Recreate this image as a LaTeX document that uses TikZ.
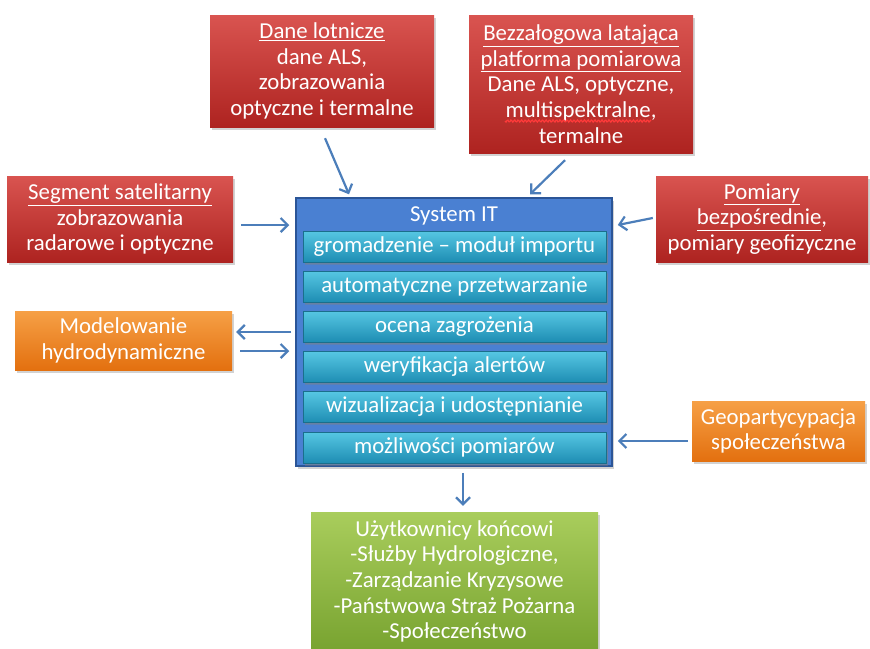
\documentclass[tikz,border=0pt]{standalone}
\usepackage{fontspec}
\setmainfont{Carlito}
\usetikzlibrary{arrows.meta,shadows,calc}
\newcommand\ul[1]{\underline{#1}}
\definecolor{redT}{HTML}{D95450}
\definecolor{redB}{HTML}{AE2320}
\definecolor{orT}{HTML}{F6A046}
\definecolor{orB}{HTML}{E3700F}
\definecolor{grT}{HTML}{A9CD5C}
\definecolor{grB}{HTML}{78A330}
\definecolor{sysF}{HTML}{4A80D2}
\definecolor{sysD}{HTML}{2B5597}
\definecolor{cyT}{HTML}{56C7E3}
\definecolor{cyB}{HTML}{1E8DB3}
\definecolor{cyD}{HTML}{1A6F8C}
\definecolor{arrC}{HTML}{4C7EBA}
\definecolor{waveC}{HTML}{FF3A3A}
\tikzset{
  txt/.style={font=\fontsize{22.8}{25.6}\selectfont},
  box/.style={draw=none, text=white, align=center, inner sep=0pt, txt,
    drop shadow={shadow xshift=2pt, shadow yshift=-2.5pt, opacity=0.35}},
  redbox/.style={box, top color=redT, bottom color=redB},
  orbox/.style={box, top color=orT, bottom color=orB},
  grbox/.style={box, top color=grT, bottom color=grB},
  sysbox/.style={draw=sysD, line width=1.5pt, fill=sysF,
    drop shadow={shadow xshift=2pt, shadow yshift=-2.5pt, opacity=0.35}},
  bar/.style={box, top color=cyT, bottom color=cyB, draw=cyD, line width=0.6pt,
    minimum width=303pt, minimum height=31pt,
    drop shadow={shadow xshift=1.5pt, shadow yshift=-1.5pt, opacity=0.35}},
  arr/.style={draw=arrC, line width=2.2pt, -{Straight Barb[length=7pt,width=14pt,line width=2.2pt]}},
  spell/.style={draw=waveC, line width=1.2pt}
}
\begin{document}
\begin{tikzpicture}[x=1pt,y=-1pt]
\clip (0,0) rectangle (870,648);
\fill[white] (0,0) rectangle (870,648);
% sources
\node[redbox, minimum width=224pt, minimum height=112pt] (dl) at (322,71)
  {\ul{Dane lotnicze}\\dane ALS,\\zobrazowania\\optyczne i termalne};
\node[redbox, minimum width=224pt, minimum height=138pt] (bz) at (581,84)
  {\ul{Bezzałogowa latająca}\\\ul{platforma pomiarowa}\\Dane ALS, optyczne,\\multispektralne,\\termalne};
\node[redbox, minimum width=226pt, minimum height=86pt] (seg) at (120,219)
  {\ul{Segment satelitarny}\\zobrazowania\\radarowe i optyczne};
\node[redbox, minimum width=212pt, minimum height=86pt] (pom) at (762,219)
  {\ul{Pomiary}\\\ul{bezpośrednie},\\pomiary geofizyczne};
\node[orbox, minimum width=217pt, minimum height=59pt] (mod) at (123.5,340.5)
  {Modelowanie\\hydrodynamiczne};
\node[orbox, minimum width=173pt, minimum height=60pt] (geo) at (778.5,431)
  {Geopartycypacja\\społeczeństwa};
\node[grbox, minimum width=287pt, minimum height=139pt] (usr) at (454.5,581.5)
  {Użytkownicy końcowi\\-Służby Hydrologiczne,\\-Zarządzanie Kryzysowe\\-Państwowa Straż Pożarna\\-Społeczeństwo};
% system
\node[sysbox, minimum width=316pt, minimum height=268pt] (sys) at (454,332) {};
\node[text=white, txt, inner sep=0pt] (sysT) at (454,216) {System IT};
\node[bar] (b1) at (454.5,246.5) {gromadzenie – moduł importu};
\node[bar] (b2) at (454.5,286.5) {automatyczne przetwarzanie};
\node[bar] (b3) at (454.5,326.5) {ocena zagrożenia};
\node[bar] (b4) at (454.5,367) {weryfikacja alertów};
\node[bar] (b5) at (454.5,407) {wizualizacja i udostępnianie};
\node[bar] (b6) at (454.5,447.5) {możliwości pomiarów};
% arrows
\draw[arr] ([xshift=3pt,yshift=-11pt]dl.south) -- ([xshift=-105pt,yshift=3pt]sys.north);
\draw[arr] ([xshift=-16pt,yshift=-7pt]bz.south) -- ([xshift=76pt,yshift=3pt]sys.north);
\draw[arr] ([xshift=8pt,yshift=-6pt]seg.east) -- ([xshift=-6pt,yshift=107pt]sys.west);
\draw[arr] ([xshift=-3pt,yshift=1pt]pom.west) -- ([xshift=5pt,yshift=107pt]sys.east);
\draw[arr] ([xshift=-4pt]sys.west) -- ([xshift=4pt,yshift=8.5pt]mod.east);
\draw[arr] ([xshift=8pt,yshift=-10.5pt]mod.east) -- ([xshift=-6pt,yshift=-19pt]sys.west);
\draw[arr] ([xshift=-4pt,yshift=-10pt]geo.west) -- ([xshift=5pt,yshift=-109pt]sys.east);
\draw[arr] ([xshift=9pt,yshift=-6pt]sys.south) -- ([xshift=8.5pt,yshift=6pt]usr.north);
% spell-check wave under "multispektralne"
\coordinate (ws) at ([xshift=-76pt,yshift=-37pt]bz.center);
\draw[spell, shift={(ws)}] plot[domain=0:146, samples=150, smooth] (\x,{1.1*sin(\x*103)});
\end{tikzpicture}
\end{document}
